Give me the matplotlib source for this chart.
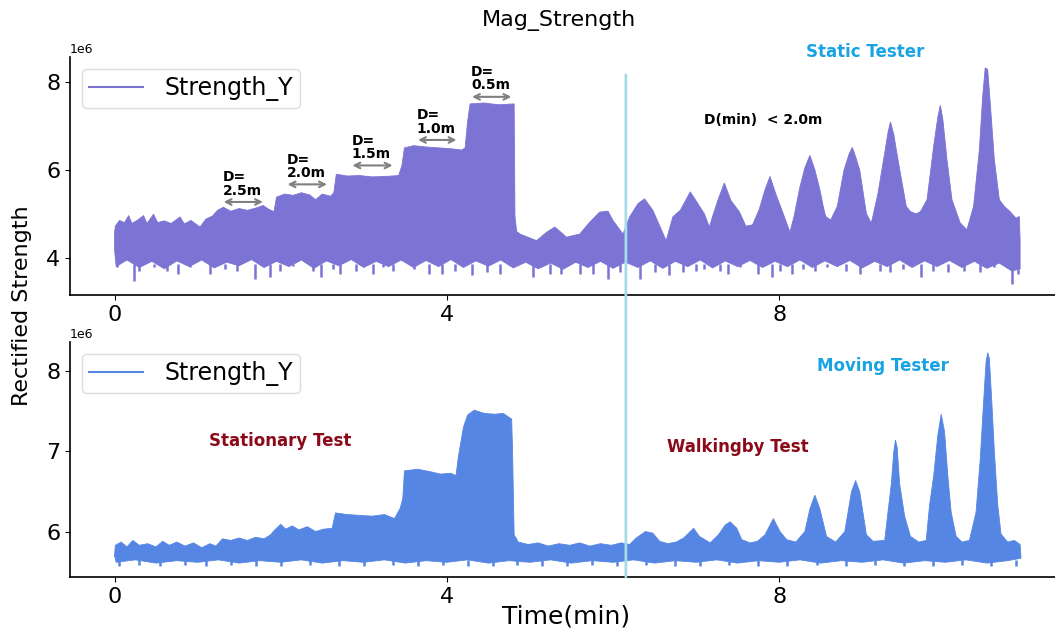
import matplotlib
matplotlib.use("Agg")
import matplotlib.pyplot as plt
from matplotlib.patches import ConnectionPatch

# envelope of the dense signal (values in 1e6)
# top panel (static tester): upper edge
top_up_t = [0.00, 0.01, 0.06, 0.12, 0.17, 0.21, 0.28, 0.35, 0.39, 0.47, 0.52, 0.60, 0.68, 0.79,
            0.84, 0.92, 1.03, 1.10, 1.18, 1.24, 1.31, 1.40, 1.50, 1.60, 1.70, 1.79, 1.86, 1.92,
            1.95, 2.05, 2.15, 2.25, 2.35, 2.42, 2.50, 2.60, 2.64, 2.67, 2.80, 2.95, 3.10, 3.25,
            3.42, 3.46, 3.49, 3.60, 3.75, 3.90, 4.05, 4.18, 4.22, 4.25, 4.28, 4.45, 4.62, 4.81,
            4.82, 4.84, 4.88, 5.08, 5.20, 5.30, 5.44, 5.60, 5.72, 5.84, 5.94, 6.00, 6.12, 6.20,
            6.30, 6.38, 6.48, 6.64, 6.72, 6.81, 6.93, 7.10, 7.16, 7.20, 7.27, 7.34, 7.42, 7.52,
            7.60, 7.68, 7.76, 7.83, 7.89, 7.96, 8.04, 8.13, 8.18, 8.25, 8.31, 8.37, 8.43, 8.49,
            8.53, 8.56, 8.62, 8.70, 8.78, 8.84, 8.88, 8.92, 8.97, 9.05, 9.11, 9.19, 9.27, 9.31,
            9.34, 9.38, 9.43, 9.53, 9.58, 9.65, 9.70, 9.78, 9.86, 9.91, 9.94, 9.97, 10.02, 10.08,
            10.18, 10.26, 10.34, 10.41, 10.45, 10.48, 10.51, 10.54, 10.59, 10.65, 10.71, 10.78,
            10.85, 10.89, 10.90]
top_up_v = [4.55, 4.72, 4.85, 4.80, 4.96, 4.78, 4.86, 4.96, 4.78, 4.99, 4.80, 4.84, 4.78, 4.93,
            4.77, 4.85, 4.70, 4.88, 4.95, 5.08, 5.15, 5.06, 5.12, 5.08, 5.13, 5.19, 5.10, 5.05,
            5.38, 5.45, 5.42, 5.48, 5.43, 5.32, 5.45, 5.40, 5.48, 5.90, 5.86, 5.87, 5.84, 5.85,
            5.87, 6.10, 6.50, 6.55, 6.52, 6.50, 6.48, 6.45, 6.50, 7.10, 7.50, 7.52, 7.48, 7.50,
            4.95, 4.60, 4.54, 4.39, 4.58, 4.70, 4.47, 4.54, 4.81, 5.04, 5.06, 4.85, 4.54, 4.93,
            5.23, 5.34, 5.08, 4.39, 4.93, 5.08, 5.50, 5.00, 4.70, 4.95, 5.35, 5.70, 5.30, 5.05,
            4.72, 4.75, 5.10, 5.55, 5.85, 5.45, 5.05, 4.58, 4.95, 5.61, 6.05, 6.33, 6.00, 5.55,
            5.17, 4.94, 4.86, 5.17, 5.99, 6.35, 6.51, 6.30, 5.99, 5.00, 4.79, 5.47, 6.38, 6.85,
            7.09, 6.80, 6.23, 5.17, 5.05, 5.00, 5.05, 5.32, 6.54, 7.20, 7.47, 7.15, 6.23, 5.32,
            4.79, 4.64, 5.17, 6.46, 7.68, 8.32, 8.28, 7.53, 6.23, 5.32, 5.17, 5.05,
            4.90, 4.94, 4.40]
# top panel: bottom edge of the solid body
top_lo_t = [0.00, 0.02, 0.15, 0.30, 0.45, 0.60, 0.75, 0.90, 1.05, 1.20,
            1.35, 1.50, 1.65, 1.80, 1.95, 2.10, 2.25, 2.40, 2.55, 2.70,
            2.85, 3.00, 3.15, 3.30, 3.45, 3.60, 3.75, 3.90, 4.05, 4.20,
            4.35, 4.50, 4.65, 4.80, 4.95, 5.10, 5.25, 5.40, 5.55, 5.70,
            5.85, 6.00, 6.15, 6.30, 6.45, 6.60, 6.75, 6.90, 7.05, 7.20,
            7.35, 7.50, 7.65, 7.80, 7.95, 8.10, 8.25, 8.40, 8.55, 8.70,
            8.85, 9.00, 9.15, 9.30, 9.45, 9.60, 9.75, 9.90, 10.05, 10.20,
            10.35, 10.50, 10.65, 10.80, 10.90]
top_lo_v = [4.20, 3.80, 3.95, 3.78, 3.92, 3.75, 3.93, 3.80, 3.95, 3.77,
            3.90, 3.82, 3.96, 3.78, 3.92, 3.80, 3.95, 3.76, 3.93, 3.82,
            3.96, 3.78, 3.92, 3.80, 3.95, 3.78, 3.94, 3.80, 3.96, 3.78,
            3.93, 3.81, 3.95, 3.77, 3.90, 3.75, 3.88, 3.74, 3.90, 3.78,
            3.92, 3.76, 3.90, 3.78, 3.93, 3.76, 3.92, 3.80, 3.95, 3.77,
            3.93, 3.80, 3.94, 3.78, 3.92, 3.80, 3.95, 3.78, 3.93, 3.80,
            3.94, 3.77, 3.92, 3.80, 3.95, 3.78, 3.93, 3.80, 3.94, 3.78,
            3.92, 3.76, 3.88, 3.70, 3.75]
# top panel: downward spikes
top_spike_t = [0.03, 0.23, 0.29, 0.47, 0.63, 0.77, 0.91, 1.15, 1.33, 1.47, 1.69, 1.87, 1.99,
               2.15, 2.39, 2.49, 2.63, 2.71, 2.91, 3.11, 3.23, 3.35, 3.60, 3.78, 3.94, 4.10,
               4.30, 4.48, 4.64, 4.84, 5.04, 5.24, 5.38, 5.60, 5.76, 5.94, 6.08, 6.32, 6.50,
               6.68, 6.84, 7.00, 7.09, 7.29, 7.39, 7.53, 7.75, 7.91, 8.01, 8.15, 8.29, 8.43,
               8.57, 8.81, 8.97, 9.21, 9.33, 9.49, 9.71, 9.85, 10.03, 10.22, 10.42, 10.58,
               10.80, 10.88]
top_spike_v = [3.78, 3.48, 3.71, 3.78, 3.71, 3.63, 3.78, 3.63, 3.75, 3.71, 3.52, 3.56, 3.71,
               3.82, 3.71, 3.56, 3.75, 3.63, 3.71, 3.63, 3.78, 3.70, 3.75, 3.63, 3.63, 3.71,
               3.60, 3.67, 3.63, 3.86, 3.56, 3.63, 3.63, 3.63, 3.63, 3.52, 3.67, 3.52, 3.67,
               3.60, 3.67, 3.71, 3.75, 3.71, 3.63, 3.78, 3.63, 3.56, 3.71, 3.63, 3.75, 3.71,
               3.78, 3.71, 3.63, 3.71, 3.67, 3.75, 3.56, 3.71, 3.67, 3.71, 3.67, 3.78,
               3.40, 3.63]

# bottom panel (moving tester)
bot_up_t = [0.00, 0.01, 0.08, 0.15, 0.22, 0.30, 0.40, 0.50, 0.58, 0.66, 0.75, 0.85, 0.95, 1.05,
            1.15, 1.22, 1.30, 1.40, 1.50, 1.60, 1.70, 1.80, 1.88, 1.92, 2.00, 2.06, 2.14, 2.22,
            2.32, 2.42, 2.52, 2.62, 2.66, 2.80, 2.95, 3.10, 3.25, 3.37, 3.44, 3.47, 3.49, 3.65,
            3.80, 3.92, 4.05, 4.11, 4.14, 4.20, 4.25, 4.33, 4.45, 4.58, 4.68, 4.75, 4.78, 4.79,
            4.81, 4.86, 4.98, 5.10, 5.22, 5.35, 5.48, 5.60, 5.72, 5.85, 5.98, 6.10, 6.20, 6.28,
            6.39, 6.48, 6.56, 6.66, 6.76, 6.85, 6.97, 7.04, 7.17, 7.27, 7.35, 7.41, 7.49, 7.55,
            7.65, 7.74, 7.83, 7.93, 8.01, 8.09, 8.20, 8.31, 8.37, 8.43, 8.49, 8.57, 8.68, 8.79,
            8.87, 8.92, 8.97, 9.05, 9.13, 9.27, 9.31, 9.35, 9.38, 9.40, 9.42, 9.45, 9.51, 9.58,
            9.68, 9.77, 9.81, 9.86, 9.91, 9.95, 9.99, 10.03, 10.07, 10.13, 10.20, 10.29, 10.37,
            10.42, 10.46, 10.49, 10.51, 10.53, 10.56, 10.59, 10.63, 10.67, 10.75, 10.83, 10.90,
            10.91]
bot_up_v = [5.70, 5.84, 5.88, 5.82, 5.90, 5.84, 5.86, 5.82, 5.89, 5.84, 5.88, 5.83, 5.87, 5.81,
            5.86, 5.83, 5.92, 5.90, 5.93, 5.90, 5.94, 5.92, 5.97, 6.02, 6.10, 6.04, 6.08, 6.03,
            6.07, 6.01, 6.04, 6.05, 6.24, 6.22, 6.21, 6.20, 6.22, 6.17, 6.30, 6.42, 6.76, 6.78,
            6.75, 6.72, 6.73, 6.70, 6.94, 7.30, 7.45, 7.51, 7.47, 7.46, 7.47, 7.42, 7.40, 7.05,
            5.97, 5.88, 5.85, 5.87, 5.83, 5.86, 5.84, 5.87, 5.83, 5.86, 5.84, 5.87, 5.85, 5.93,
            6.01, 5.99, 5.89, 5.86, 5.88, 5.93, 6.05, 5.95, 5.87, 5.97, 6.09, 6.13, 6.05, 5.91,
            5.87, 5.89, 5.97, 6.17, 6.01, 5.91, 5.88, 6.01, 6.29, 6.46, 6.29, 5.95, 5.88, 6.01,
            6.50, 6.64, 6.50, 5.97, 5.89, 5.90, 6.25, 6.60, 7.00, 7.14, 7.05, 6.60, 6.20, 5.95,
            5.88, 5.90, 6.33, 6.70, 7.20, 7.46, 7.25, 6.70, 6.25, 5.95, 5.88, 5.90, 6.25,
            6.90, 7.60, 8.10, 8.22, 8.15, 7.60, 7.00, 6.35, 5.98, 5.88, 5.90, 5.85,
            5.70]
bot_lo_t = [0.00, 0.02, 0.25, 0.50, 0.75, 1.00, 1.25, 1.50, 1.75, 2.00, 2.25, 2.50, 2.75, 3.00,
            3.25, 3.50, 3.75, 4.00, 4.25, 4.50, 4.75, 5.00, 5.25, 5.50, 5.75, 6.00, 6.25, 6.50,
            6.75, 7.00, 7.25, 7.50, 7.75, 8.00, 8.25, 8.50, 8.75, 9.00, 9.25, 9.50, 9.75, 10.00,
            10.25, 10.50, 10.75, 10.91]
bot_lo_v = [5.72, 5.63, 5.66, 5.62, 5.65, 5.63, 5.66, 5.62, 5.65, 5.63, 5.66, 5.62, 5.65, 5.63,
            5.66, 5.62, 5.65, 5.63, 5.66, 5.62, 5.65, 5.63, 5.66, 5.62, 5.65, 5.63, 5.66, 5.62,
            5.65, 5.63, 5.66, 5.62, 5.65, 5.63, 5.66, 5.62, 5.65, 5.63, 5.66, 5.62, 5.65, 5.63,
            5.66, 5.62, 5.65, 5.68]
bot_spike_t = [0.05, 0.30, 0.55, 0.85, 1.10, 1.40, 1.70, 2.00, 2.35, 2.70, 3.00, 3.35, 3.65,
               3.95, 4.25, 4.55, 4.85, 5.15, 5.45, 5.75, 6.05, 6.40, 6.75, 7.05, 7.40, 7.75,
               8.10, 8.45, 8.80, 9.15, 9.50, 9.85, 10.20, 10.55, 10.85]
bot_spike_v = [5.59, 5.60, 5.58, 5.60, 5.59, 5.60, 5.58, 5.59, 5.60, 5.59, 5.58, 5.60, 5.59,
               5.60, 5.58, 5.59, 5.60, 5.59, 5.58, 5.60, 5.59, 5.60, 5.58, 5.59, 5.60, 5.59,
               5.58, 5.60, 5.59, 5.60, 5.58, 5.59, 5.60, 5.59, 5.58]

# distance labels: (text, left, right, arrow height)
dist_labels = ["D=\n2.5m", "D=\n2.0m", "D=\n1.5m", "D=\n1.0m", "D=\n0.5m"]
dist_left = [1.28, 2.05, 2.83, 3.62, 4.27]
dist_right = [1.82, 2.59, 3.38, 4.15, 4.81]
dist_y = [5.27, 5.67, 6.10, 6.68, 7.66]

switch_t = 6.155

top_color = "#7b74d4"
bot_color = "#5686e3"

fig = plt.figure(figsize=(10.55, 6.32), dpi=100)
ax1 = fig.add_axes([0.0664, 0.5332, 0.9336, 0.3766])
ax2 = fig.add_axes([0.0664, 0.087, 0.9336, 0.3718])

panels = [(ax1, top_up_t, top_up_v, top_lo_t, top_lo_v, top_spike_t, top_spike_v, top_color, 3.85),
          (ax2, bot_up_t, bot_up_v, bot_lo_t, bot_lo_v, bot_spike_t, bot_spike_v, bot_color, 5.66)]

for ax, ut, uv, lt, lv, st, sv, col, body in panels:
    xs = ut + lt[::-1]
    ys = [v * 1e6 for v in uv + lv[::-1]]
    ax.fill(xs, ys, color=col, lw=0.6, ec=col)
    ax.vlines(st, [v * 1e6 for v in sv], body * 1e6, color=col, lw=1.8)
    ax.plot([], [], color=col, lw=1.5, label="Strength_Y")
    ax.spines["top"].set_visible(False)
    ax.spines["right"].set_visible(False)
    ax.spines["left"].set_linewidth(1.2)
    ax.spines["bottom"].set_linewidth(1.2)
    ax.set_xticks([0, 4, 8])
    ax.tick_params(labelsize=16)
    ax.set_xlim(-0.535, 11.32)
    ax.margins(y=0.05)
    ax.yaxis.get_offset_text().set_fontsize(9)
    ax.legend(loc="upper left", fontsize=17, handlelength=2.3, handletextpad=0.9,
              borderpad=0.3, framealpha=1, edgecolor="#dddddd")

ax1.set_yticks([4e6, 6e6, 8e6])
ax2.set_yticks([6e6, 7e6, 8e6])

for lab, x0, x1, y in zip(dist_labels, dist_left, dist_right, dist_y):
    ax1.annotate("", xy=(x1, y * 1e6), xytext=(x0, y * 1e6),
                 arrowprops=dict(arrowstyle="<->", color="gray", lw=1.5))
    ax1.text(x0 + 0.02, (y + 0.1) * 1e6, lab, fontsize=10, fontweight="bold",
             ha="left", va="bottom", linespacing=0.95)

ax1.text(7.1, 7.13e6, "D(min)  < 2.0m", fontsize=10, fontweight="bold", va="center")
ax1.text(9.04, 8.68e6, "Static Tester", fontsize=12, fontweight="bold",
         color="#1aa3e3", ha="center", va="center", clip_on=False)
ax2.text(9.25, 8.05e6, "Moving Tester", fontsize=12, fontweight="bold",
         color="#1aa3e3", ha="center", va="center")
ax2.text(2.0, 7.13e6, "Stationary Test", fontsize=12, fontweight="bold",
         color="#8b0a1a", ha="center", va="center")
ax2.text(7.5, 7.05e6, "Walkingby Test", fontsize=12, fontweight="bold",
         color="#8b0a1a", ha="center", va="center")

# separator line across both panels
y_bottom = ax2.get_ylim()[0]
con = ConnectionPatch(xyA=(switch_t, 8.16e6), coordsA=ax1.transData,
                      xyB=(switch_t, y_bottom), coordsB=ax2.transData,
                      color="#a6dbe8", lw=2, zorder=5)
fig.add_artist(con)

fig.text(0.53, 0.968, "Mag_Strength", fontsize=16, ha="center", va="center")
fig.text(0.021, 0.517, "Rectified Strength", fontsize=16, rotation=90, ha="center", va="center")
fig.text(0.537, 0.024, "Time(min)", fontsize=18, ha="center", va="center")

fig.savefig("out.png", dpi=100)
